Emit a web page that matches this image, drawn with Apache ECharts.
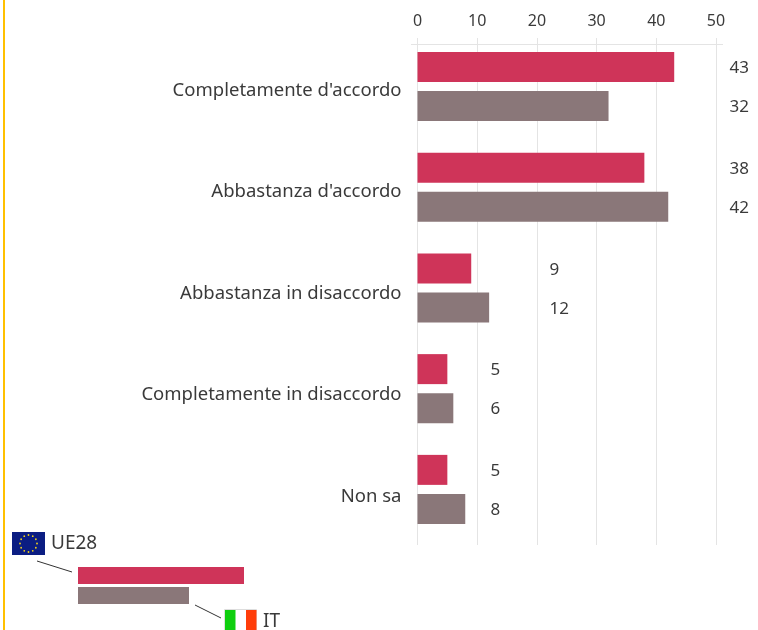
<!DOCTYPE html>
<html>
<head>
<meta charset="utf-8">
<style>html,body{margin:0;padding:0;background:#fff}#c{width:758px;height:630px}</style>
<script src="https://cdn.jsdelivr.net/npm/echarts@6/dist/echarts.min.js"></script>
</head>
<body>
<div id="c"></div>
<script>
const categories = ["Completamente d'accordo", "Abbastanza d'accordo", "Abbastanza in disaccordo", "Completamente in disaccordo", "Non sa"];
const ue28 = [43, 38, 9, 5, 5];
const it = [32, 42, 12, 6, 8];
const valueTicks = [0, 10, 20, 30, 40, 50];
const labelOffsets = [312, 312, 132, 73, 73];

const RED = '#CF3459', GREY = '#8A7779', TXT = '#3a3a3a', FONT = '"Noto Sans", sans-serif';
const chart = echarts.init(document.getElementById('c'), null, {renderer: 'canvas'});

const stars = [];
for (let i = 0; i < 12; i++) {
  const a = i * Math.PI / 6;
  stars.push({type: 'circle', shape: {cx: 28.5 + 8.5 * Math.cos(a), cy: 543.5 + 8.5 * Math.sin(a), r: 0.9}, style: {fill: '#f2d21a'}});
}
const makeSeries = (name, values, color) => ({
  name, type: 'bar', xAxisIndex: 0, yAxisIndex: 0, barWidth: 30, barGap: '30%',
  itemStyle: {color},
  data: values.map((v, i) => ({
    value: v,
    label: {show: true, position: 'insideLeft', distance: 0, offset: [labelOffsets[i], 1.5], formatter: '{c}', color: TXT, fontFamily: FONT, fontSize: 17}
  }))
});

chart.setOption({
  animation: false,
  backgroundColor: '#fff',
  grid: [
    {left: 417.5, width: 298.5, top: 36, height: 503.75},
    {left: 417.5, width: 298.5, top: 38, height: 507},
    {left: 417.5, width: 298.5, top: 40, height: 507}
  ],
  xAxis: [
    {type: 'value', gridIndex: 0, min: 0, max: 50, interval: 10, show: false},
    {type: 'value', gridIndex: 1, position: 'top', min: 0, max: 50, interval: 10,
     axisLine: {show: false}, axisTick: {show: false},
     axisLabel: {margin: 9, color: TXT, fontFamily: FONT, fontSize: 16, formatter: v => valueTicks.includes(v) ? String(v) : ''},
     splitLine: {show: true, lineStyle: {color: '#e4e4e4', width: 1}}},
    {type: 'value', gridIndex: 2, min: 0, max: 50, show: false}
  ],
  yAxis: [
    {type: 'category', gridIndex: 0, inverse: true, data: categories, show: false},
    {type: 'category', gridIndex: 1, show: false, data: categories},
    {type: 'category', gridIndex: 2, inverse: true, data: categories,
     axisLine: {show: false}, axisTick: {show: false},
     axisLabel: {margin: 16, color: TXT, fontFamily: FONT, fontSize: 18.5}}
  ],
  series: [makeSeries('UE28', ue28, RED), makeSeries('IT', it, GREY)],
  graphic: [
    {type: 'rect', shape: {x: 3, y: 0, width: 2, height: 630}, style: {fill: '#FFC000'}},
    {type: 'line', shape: {x1: 411, y1: 44.5, x2: 723, y2: 44.5}, style: {stroke: '#e4e4e4', lineWidth: 1}},
    {type: 'rect', shape: {x: 12, y: 532, width: 33, height: 23}, style: {fill: '#0b1d82'}},
    ...stars,
    {type: 'text', style: {x: 51, y: 544, text: 'UE28', fill: TXT, font: '19px ' + FONT, textVerticalAlign: 'middle'}},
    {type: 'line', shape: {x1: 37, y1: 561, x2: 72, y2: 572}, style: {stroke: '#333', lineWidth: 1}},
    {type: 'rect', shape: {x: 78, y: 567, width: 166, height: 17}, style: {fill: RED}},
    {type: 'rect', shape: {x: 78, y: 587, width: 111, height: 17}, style: {fill: GREY}},
    {type: 'line', shape: {x1: 195, y1: 605, x2: 221, y2: 618}, style: {stroke: '#333', lineWidth: 1}},
    {type: 'rect', shape: {x: 224.5, y: 609.5, width: 32, height: 22}, style: {fill: '#fff', stroke: '#ddd', lineWidth: 1}},
    {type: 'rect', shape: {x: 225, y: 610, width: 10.5, height: 20}, style: {fill: '#0fcf0f'}},
    {type: 'rect', shape: {x: 246, y: 610, width: 10.5, height: 20}, style: {fill: '#ff3d0a'}},
    {type: 'text', style: {x: 263, y: 622, text: 'IT', fill: TXT, font: '19px ' + FONT, textVerticalAlign: 'middle'}}
  ]
});
</script>
</body>
</html>
